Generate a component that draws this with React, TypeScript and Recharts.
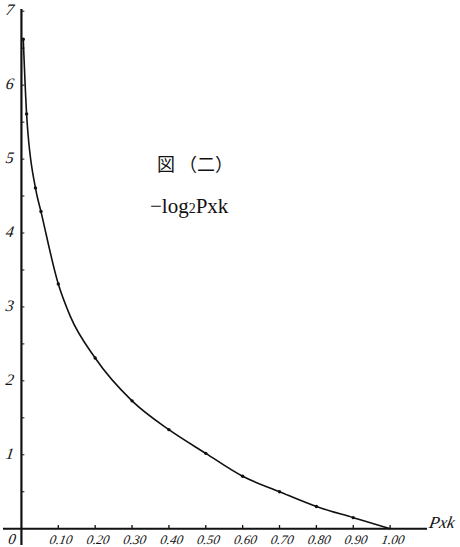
import React from 'react';
import { LineChart, Line, XAxis, YAxis, ReferenceLine, ReferenceDot } from 'recharts';

// probability P(xk)
const pValues = [0.005, 0.014, 0.038, 0.053, 0.1, 0.132, 0.2, 0.3, 0.4, 0.5, 0.6, 0.7, 0.8, 0.9, 1.0];
// -log2 P(xk)
const infoValues = [6.62, 5.61, 4.61, 4.29, 3.31, 2.88, 2.31, 1.73, 1.34, 1.02, 0.71, 0.5, 0.3, 0.15, 0.0];
// which points carry a drawn dot
const dotFlags = [true, true, true, true, true, false, true, true, true, true, true, true, true, true, false];

const xTicks = [0.1, 0.2, 0.3, 0.4, 0.5, 0.6, 0.7, 0.8, 0.9, 1.0];
const xTickLabels = ['0.10', '0.20', '0.30', '0.40', '0.50', '0.60', '0.70', '0.80', '0.90', '1.00'];
const yTicks = [1, 2, 3, 4, 5, 6, 7];
const yTickLabels = ['1', '2', '3', '4', '5', '6', '7'];
const yMinorTicks = [0.5, 1, 1.5, 2, 2.5, 3, 3.5, 4, 4.5, 5, 5.5, 6, 6.5, 7];
const originLabel = '0';
const titleText = '図 （二）';
const subtitleParts = ['−log', '2', 'Pxk'];
const xAxisName = 'Pxk';

const data = pValues.map((p, i) => ({ p, info: infoValues[i], mark: dotFlags[i] }));

const X_DOMAIN: [number, number] = [-0.05, 1.1];
const Y_DOMAIN: [number, number] = [-0.22, 7.03];

const SERIF = '"Liberation Serif", "Times New Roman", "DejaVu Serif", serif';

const textLabel = (value: string, fontSize: number, opts: any = {}) => (props: any) => {
  const vb = props.viewBox || { x: 0, y: 0, width: 0, height: 0 };
  const cx = vb.x + (vb.width || 0) / 2;
  const cy = vb.y + (vb.height || 0) / 2;
  return (
    <text
      x={cx}
      y={cy}
      textAnchor="middle"
      dominantBaseline="central"
      fill="#111"
      style={{
        fontSize,
        fontFamily: opts.fontFamily || SERIF,
        fontStyle: opts.fontStyle || 'italic',
        fontWeight: opts.fontWeight || 'normal',
      }}
      transform={opts.skew ? `translate(${cx},${cy}) skewX(${opts.skew}) translate(${-cx},${-cy})` : undefined}
    >
      {value}
    </text>
  );
};

const subtitleLabel = (props: any) => {
  const vb = props.viewBox || { x: 0, y: 0, width: 0, height: 0 };
  const cx = vb.x + (vb.width || 0) / 2;
  const cy = vb.y + (vb.height || 0) / 2;
  return (
    <text
      x={cx}
      y={cy}
      textAnchor="middle"
      dominantBaseline="central"
      fill="#111"
      style={{ fontSize: 21, fontFamily: SERIF, fontStyle: 'normal' }}
    >
      <tspan>{subtitleParts[0]}</tspan>
      <tspan style={{ fontSize: 14 }} dy={2}>{subtitleParts[1]}</tspan>
      <tspan dy={-2}>{subtitleParts[2]}</tspan>
    </text>
  );
};

const renderDot = (props: any) => {
  const { cx, cy, payload, index } = props;
  if (!payload || !payload.mark) return <g key={`d${index}`} />;
  return <circle key={`d${index}`} cx={cx} cy={cy} r={1.7} fill="#111" stroke="none" />;
};

export default function App() {
  return (
    <div style={{ position: 'absolute', left: 0, top: 0, width: 460, height: 547, background: '#fff' }}>
      <LineChart width={460} height={547} data={data} margin={{ top: 9, right: 33, bottom: 2, left: 3 }}>
        <XAxis type="number" dataKey="p" domain={X_DOMAIN} hide allowDataOverflow />
        <YAxis type="number" domain={Y_DOMAIN} hide allowDataOverflow />
        <ReferenceLine x={0} stroke="#111" strokeWidth={2.2} ifOverflow="visible" />
        <ReferenceLine y={0} stroke="#111" strokeWidth={1.8} ifOverflow="visible" />
        {yMinorTicks.map((v) => (
          <ReferenceLine
            key={`ym${v}`}
            segment={[{ x: 0, y: v }, { x: 0.008, y: v }]}
            stroke="#111"
            strokeWidth={1}
            ifOverflow="visible"
          />
        ))}
        {xTicks.map((v) => (
          <ReferenceLine
            key={`xt${v}`}
            segment={[{ x: v, y: 0 }, { x: v, y: 0.05 }]}
            stroke="#111"
            strokeWidth={1.3}
            ifOverflow="visible"
          />
        ))}
        {yTicks.map((v, i) => (
          <ReferenceDot
            key={`yl${v}`}
            x={-0.031}
            y={v + 0.02}
            r={0}
            fill="none"
            stroke="none"
            ifOverflow="visible"
            label={textLabel(yTickLabels[i], 16, { skew: -8 })}
          />
        ))}
        {xTicks.map((v, i) => (
          <ReferenceDot
            key={`xl${v}`}
            x={v + 0.008}
            y={-0.14}
            r={0}
            fill="none"
            stroke="none"
            ifOverflow="visible"
            label={textLabel(xTickLabels[i], 13, { skew: -10 })}
          />
        ))}
        <ReferenceDot
          x={-0.025}
          y={-0.14}
          r={0}
          fill="none"
          stroke="none"
          ifOverflow="visible"
          label={textLabel(originLabel, 15, { skew: -8 })}
        />
        <ReferenceDot
          x={1.141}
          y={0.09}
          r={0}
          fill="none"
          stroke="none"
          ifOverflow="visible"
          label={textLabel(xAxisName, 17, { skew: -10 })}
        />
        <ReferenceDot
          x={0.471}
          y={4.95}
          r={0}
          fill="none"
          stroke="none"
          ifOverflow="visible"
          label={textLabel(titleText, 18, { fontFamily: '"Noto Sans CJK JP", sans-serif', fontStyle: 'normal' })}
        />
        <ReferenceDot x={0.455} y={4.37} r={0} fill="none" stroke="none" ifOverflow="visible" label={subtitleLabel} />
        <Line
          type="monotone"
          dataKey="info"
          stroke="#111"
          strokeWidth={1.6}
          dot={renderDot}
          activeDot={false}
          isAnimationActive={false}
        />
      </LineChart>
    </div>
  );
}
